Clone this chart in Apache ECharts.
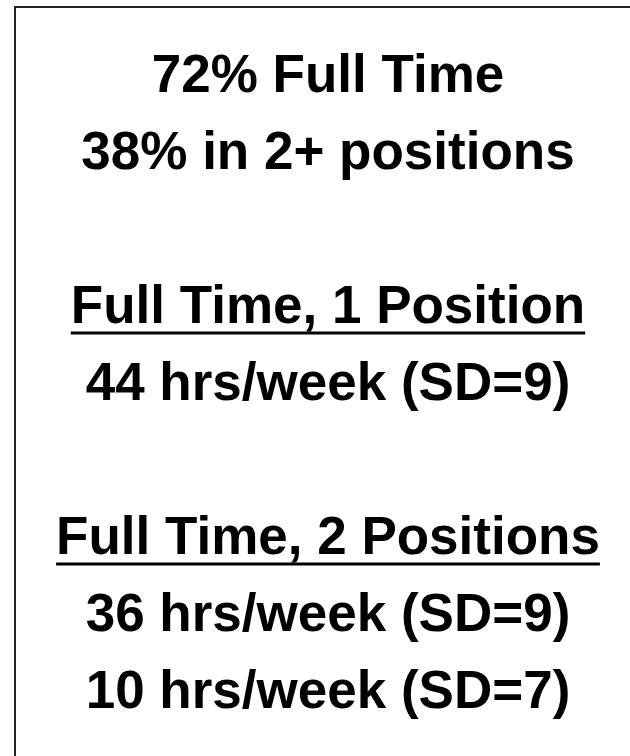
<!DOCTYPE html>
<html>
<head>
<meta charset="utf-8">
<style>
  html, body { margin: 0; padding: 0; background: #fff; }
  #main { width: 630px; height: 756px; }
</style>
<script src="https://cdn.jsdelivr.net/npm/echarts@6/dist/echarts.min.js"></script>
</head>
<body>
<div id="main"></div>
<script>
var summaryLines = ['72% Full Time', '38% in 2+ positions'];
var groupTitles = ['Full Time, 1 Position', 'Full Time, 2 Positions'];
var groupLines = [
  ['44 hrs/week (SD=9)'],
  ['36 hrs/week (SD=9)', '10 hrs/week (SD=7)']
];

var chart = echarts.init(document.getElementById('main'));
var font = 'bold 53px "Liberation Sans", Arial, sans-serif';
var cx = 328;
var step = 77;

// measure text width for the underlines
var ctx = document.createElement('canvas').getContext('2d');
ctx.font = font;
function textWidth(s) { return ctx.measureText(s).width; }

var elements = [];
// border (right and bottom run off the page)
elements.push({
  type: 'rect',
  shape: { x: 15, y: 7, width: 700, height: 800 },
  style: { fill: 'none', stroke: '#222', lineWidth: 2 }
});

function addText(s, baseline) {
  elements.push({
    type: 'text',
    x: cx,
    y: baseline - 19,
    style: {
      text: s,
      font: font,
      fill: '#000',
      align: 'center',
      verticalAlign: 'middle'
    }
  });
}

var y = 96;
summaryLines.forEach(function (s) { addText(s, y); y += step; });
y += step;
groupTitles.forEach(function (title, i) {
  addText(title, y);
  var w = textWidth(title);
  elements.push({
    type: 'line',
    shape: { x1: cx - w / 2, y1: y + 6, x2: cx + w / 2, y2: y + 6 },
    style: { stroke: '#000', lineWidth: 3 }
  });
  y += step;
  groupLines[i].forEach(function (s) { addText(s, y); y += step; });
  y += step;
});

var option = {
  backgroundColor: '#fff',
  animation: false,
  graphic: { elements: elements }
};
chart.setOption(option);
</script>
</body>
</html>
